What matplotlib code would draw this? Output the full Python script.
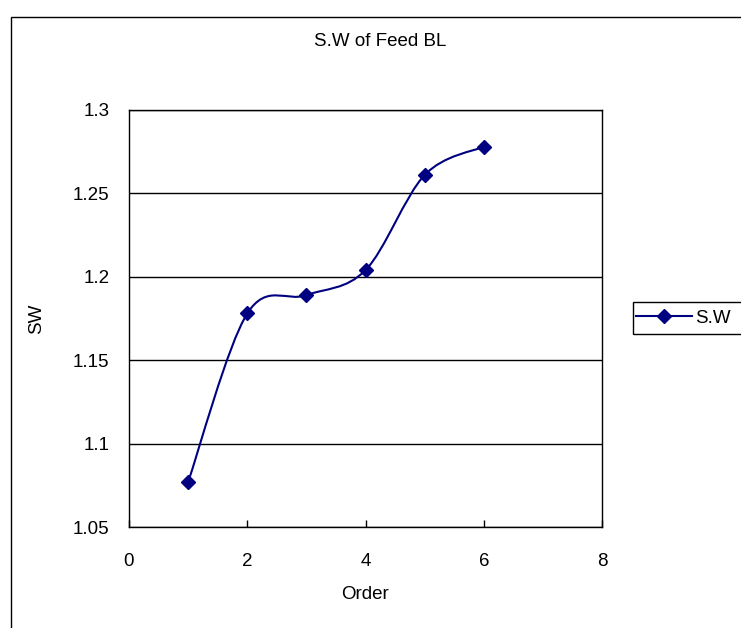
import matplotlib
matplotlib.use("Agg")
import matplotlib.pyplot as plt
from matplotlib.path import Path
from matplotlib.patches import PathPatch, Rectangle
from matplotlib.lines import Line2D
import numpy as np

plt.rcParams['font.family'] = ['Liberation Sans', 'DejaVu Sans']

order = [1, 2, 3, 4, 5, 6]
sw = [1.077, 1.178, 1.189, 1.204, 1.261, 1.278]
series_name = "S.W"
title = "S.W of Feed BL"
xlabel = "Order"
ylabel = "SW"
xticks = [0, 2, 4, 6, 8]
yticks = [1.05, 1.1, 1.15, 1.2, 1.25, 1.3]
ytick_labels = ["1.05", "1.1", "1.15", "1.2", "1.25", "1.3"]

W, H = 741, 628
FS = 13.5
fig = plt.figure(figsize=(W / 100, H / 100), dpi=100)
ax = fig.add_axes([129 / W, 1 - 527 / H, (602 - 129) / W, (527 - 110) / H])

# Excel-style smoothed line (Catmull-Rom as cubic Bezier)
pts = np.column_stack([order, sw]).astype(float)
n = len(pts)
verts = [tuple(pts[0])]
codes = [Path.MOVETO]
for i in range(n - 1):
    p0 = pts[max(i - 1, 0)]
    p1 = pts[i]
    p2 = pts[i + 1]
    p3 = pts[min(i + 2, n - 1)]
    c1 = p1 + (p2 - p0) / 6.0
    c2 = p2 - (p3 - p1) / 6.0
    verts += [tuple(c1), tuple(c2), tuple(p2)]
    codes += [Path.CURVE4, Path.CURVE4, Path.CURVE4]
color = '#000080'
ax.add_patch(PathPatch(Path(verts, codes), facecolor='none', edgecolor=color,
                       lw=1.5, zorder=3, clip_on=False))
ax.plot(order, sw, linestyle='none', marker='D', ms=7, color=color, zorder=4)

ax.set_xlim(0, 8)
ax.set_ylim(1.05, 1.3)
ax.set_xticks(xticks)
ax.set_yticks(yticks)
ax.set_yticklabels(ytick_labels)
ax.yaxis.grid(True, color='black', lw=1)
ax.set_axisbelow(True)
for s in ax.spines.values():
    s.set_color('black')
    s.set_linewidth(1)
ax.tick_params(axis='x', direction='in', length=5, width=1, pad=19, labelsize=FS)
ax.tick_params(axis='y', length=0, pad=14, labelsize=FS)

ax.set_xlabel(xlabel, fontsize=FS, labelpad=11)
ax.set_ylabel(ylabel, fontsize=FS, labelpad=20)
fig.text(380 / W, 1 - 42 / H, title, ha='center', va='center', fontsize=FS)

# legend (frame extends past the right edge, as in the original)
handle = Line2D([], [], color=color, lw=1.5, marker='D', ms=7)
leg = fig.legend([handle], [series_name], loc='center left',
                 bbox_to_anchor=(636 / W, 1 - 318 / H), fontsize=FS,
                 frameon=False, borderpad=0, handlelength=3.0,
                 handletextpad=0.15, borderaxespad=0)
fig.patches.append(Rectangle((633 / W, 1 - 334 / H), 150 / W, 32 / H,
                             transform=fig.transFigure, fill=False,
                             edgecolor='black', lw=1, figure=fig))

# outer chart border
fig.patches.append(Rectangle((11 / W, -0.1), 1.2, 1 - 17 / H + 0.1,
                             transform=fig.transFigure, fill=False,
                             edgecolor='black', lw=1, figure=fig))

fig.savefig('out.png', dpi=100)
